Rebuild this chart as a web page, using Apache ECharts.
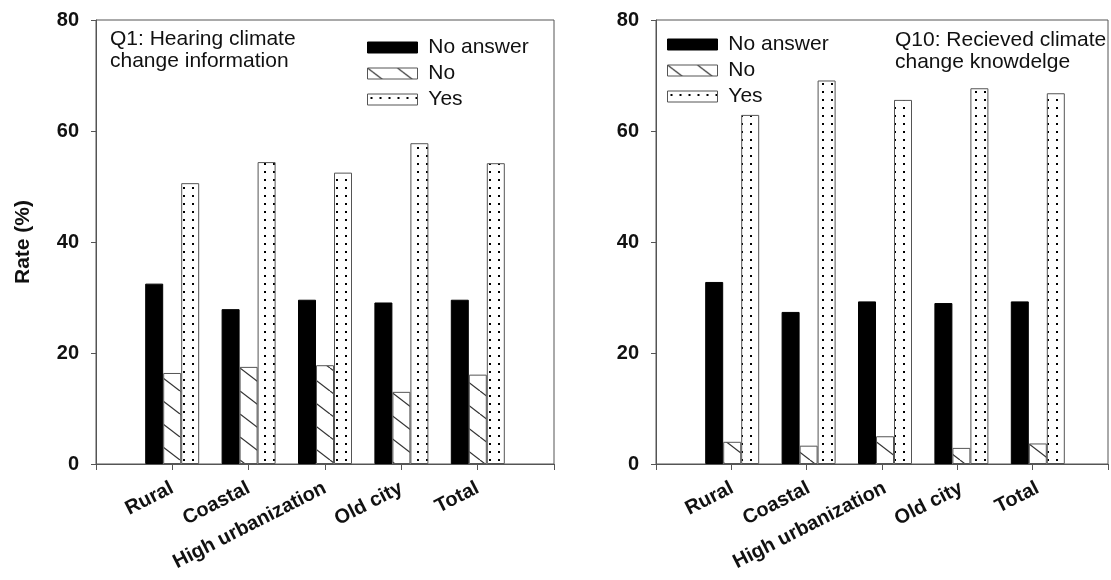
<!DOCTYPE html>
<html>
<head>
<meta charset="utf-8">
<script src="https://cdn.jsdelivr.net/npm/echarts@6/dist/echarts.min.js"></script>
<style>
html,body{margin:0;padding:0;background:#fff;}
#chart{width:1111px;height:580px;}
</style>
</head>
<body>
<div id="chart"></div>
<script>
// ---- data ----
const categories = ['Rural', 'Coastal', 'High urbanization', 'Old city', 'Total'];
const seriesNames = ['No answer', 'No', 'Yes'];
const q1NoAnswer = [32.5, 27.9, 29.6, 29.1, 29.6];
const q1No = [16.4, 17.5, 17.8, 13.0, 16.1];
const q1Yes = [50.6, 54.4, 52.5, 57.8, 54.2];
const q10NoAnswer = [32.8, 27.4, 29.3, 29.0, 29.3];
const q10No = [4.0, 3.3, 5.0, 2.9, 3.7];
const q10Yes = [62.9, 69.1, 65.6, 67.7, 66.8];
const yTicks = [0, 20, 40, 60, 80];
const catTickPositions = [1, 2, 3, 4, 5];
const q1Title = 'Q1: Hearing climate\nchange information';
const q10Title = 'Q10: Recieved climate\nchange knowdelge';
const yName = 'Rate (%)';

// ---- patterns ----
function hatchCanvas() {
  const W = 30, H = 23;
  const c = document.createElement('canvas');
  c.width = W; c.height = H;
  const g = c.getContext('2d');
  g.fillStyle = '#fff'; g.fillRect(0, 0, W, H);
  g.strokeStyle = '#333'; g.lineWidth = 1.2;
  for (const dx of [-W, 0, W]) {
    g.beginPath(); g.moveTo(dx, 0); g.lineTo(dx + W, H); g.stroke();
  }
  return c;
}
function dotCanvas() {
  const W = 9, H = 8;
  const c = document.createElement('canvas');
  c.width = W; c.height = H;
  const g = c.getContext('2d');
  g.fillStyle = '#fff'; g.fillRect(0, 0, W, H);
  g.fillStyle = '#000';
  g.fillRect(3, 3, 2, 2);
  return c;
}
const hatch = { image: hatchCanvas(), repeat: 'repeat' };
const dots = { image: dotCanvas(), repeat: 'repeat' };

const FONT = '"Liberation Sans", Arial, sans-serif';
const AX = '#555';

const styles = {
  'No answer': { color: '#000', borderColor: '#000', borderWidth: 1 },
  'No': { color: hatch, borderColor: '#555', borderWidth: 1 },
  'Yes': { color: dots, borderColor: '#555', borderWidth: 1 }
};

// frame axis: 6 equal steps across the frame; category centres fall on 1..5
function frameX(gi) {
  return {
    type: 'value', gridIndex: gi, min: 0, max: 6, interval: 1, position: 'bottom',
    axisLine: { show: true, onZero: false, lineStyle: { color: AX, width: 1 } },
    axisTick: { show: true, inside: false, length: 6, lineStyle: { color: AX, width: 1 } },
    axisLabel: { show: true, color: 'rgba(0,0,0,0)', formatter: () => '' },
    splitLine: { show: false }
  };
}
function frameY(gi, withName) {
  return {
    type: 'value', gridIndex: gi, min: 0, max: 80, interval: 20,
    axisLine: { show: true, lineStyle: { color: AX, width: 1 } },
    axisTick: { show: true, inside: false, length: 5, lineStyle: { color: AX } },
    axisLabel: { show: true, margin: 17, fontSize: 20, fontWeight: 'bold', color: '#111', fontFamily: FONT,
      formatter: v => (yTicks.indexOf(v) >= 0 ? String(v) : '') },
    splitLine: { show: false },
    name: withName ? yName : '',
    nameLocation: 'middle', nameRotate: 90, nameGap: 62,
    nameTextStyle: { fontSize: 21, fontWeight: 'bold', color: '#111', fontFamily: FONT }
  };
}
function catX(gi) {
  return {
    type: 'category', gridIndex: gi, data: categories,
    axisLine: { show: false },
    axisTick: { show: false },
    axisLabel: { rotate: 27, margin: 23, fontSize: 20, fontWeight: 'bold', color: '#111', fontFamily: FONT, interval: 0 },
    splitLine: { show: false }
  };
}
function catY(gi) { return { type: 'value', gridIndex: gi, min: 0, max: 80, show: false }; }

function bars(xi, yi, arrs) {
  return arrs.map((d, i) => ({
    type: 'bar', name: seriesNames[i], xAxisIndex: xi, yAxisIndex: yi,
    data: d, barWidth: 18, barGap: '0%',
    itemStyle: styles[seriesNames[i]],
    emphasis: { disabled: true }
  }));
}

function legend(left, top) {
  return {
    left: left, top: top, orient: 'vertical', itemWidth: 50, itemHeight: 11, itemGap: 5,
    icon: 'rect', selectedMode: false,
    formatter: n => ' ' + n,
    textStyle: { fontSize: 21, color: '#111', fontFamily: FONT },
    data: seriesNames.map(n => ({ name: n, icon: 'rect', itemStyle: styles[n] }))
  };
}

const option = {
  backgroundColor: '#fff',
  animation: false,
  title: [
    { text: q1Title, left: 105, top: 23, textStyle: { fontSize: 21, fontWeight: 'normal', color: '#111', lineHeight: 22, fontFamily: FONT } },
    { text: q10Title, left: 890, top: 24, textStyle: { fontSize: 21, fontWeight: 'normal', color: '#111', lineHeight: 22, fontFamily: FONT } }
  ],
  legend: [legend(362, 32), legend(662, 29)],
  grid: [
    { left: 96, right: 557, top: 20, bottom: 116, show: true, borderColor: AX, borderWidth: 1, backgroundColor: 'transparent' },
    { left: 134, right: 595, top: 20, bottom: 116 },
    { left: 656, right: -3, top: 20, bottom: 116, show: true, borderColor: AX, borderWidth: 1, backgroundColor: 'transparent' },
    { left: 694, right: 35, top: 20, bottom: 116 }
  ],
  xAxis: [frameX(0), catX(1), frameX(2), catX(3)],
  yAxis: [frameY(0, true), catY(1), frameY(2, false), catY(3)],
  series: [].concat(
    bars(1, 1, [q1NoAnswer, q1No, q1Yes]),
    bars(3, 3, [q10NoAnswer, q10No, q10Yes])
  )
};

const chart = echarts.init(document.getElementById('chart'), null, { renderer: 'canvas' });
chart.setOption(option);
</script>
</body>
</html>
